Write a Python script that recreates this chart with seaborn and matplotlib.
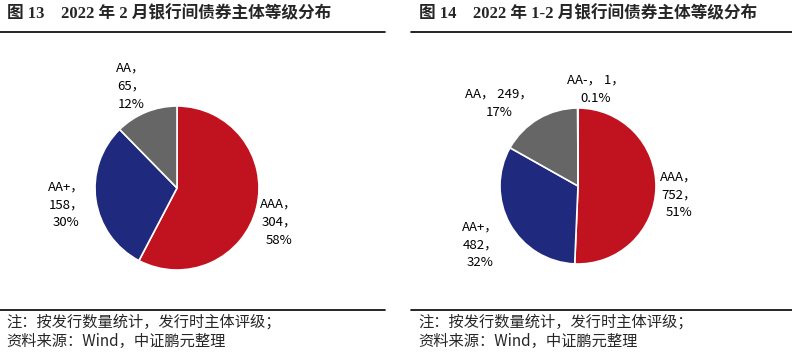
import matplotlib
matplotlib.use("Agg")
import matplotlib.pyplot as plt
import seaborn as sns

sns.set_theme(style="white")
plt.rcParams['font.family'] = ['Noto Sans CJK SC', 'DejaVu Sans']

# Data
grades_feb = ['AAA', 'AA+', 'AA']
counts_feb = [304, 158, 65]
pcts_feb = ['58%', '30%', '12%']

grades_ytd = ['AAA', 'AA+', 'AA', 'AA-']
counts_ytd = [752, 482, 249, 1]
pcts_ytd = ['51%', '32%', '17%', '0.1%']

titles = ['图 13    2022 年 2 月银行间债券主体等级分布',
          '图 14    2022 年 1-2 月银行间债券主体等级分布']
note = '注：按发行数量统计，发行时主体评级；'
source = '资料来源：Wind，中证鹏元整理'

colors = ['#C1121F', '#1F2A7E', '#666666', '#A6A6A6']

W, H = 792, 354
fig = plt.figure(figsize=(W / 100, H / 100), dpi=100)


def add_pie(cx, cy, r, grades, counts, pcts, seps, label_pos):
    # square axes of 200px centred on the pie centre (pixel coords from top-left)
    ax = fig.add_axes([(cx - 100) / W, (H - cy - 100) / H, 200 / W, 200 / H])
    ax.pie(counts, colors=colors[:len(counts)], startangle=90, counterclock=False,
           radius=r, wedgeprops=dict(edgecolor='white', linewidth=1.2))
    ax.set_xlim(-1, 1)
    ax.set_ylim(-1, 1)
    ax.set_aspect('equal')
    ax.axis('off')
    for g, c, p, s, (lx, ly) in zip(grades, counts, pcts, seps, label_pos):
        txt = f'{g}，{s[0]}{c}，{s[1]}{p}'
        ax.text(lx, ly, txt, ha='center', va='center', fontsize=9.5,
                linespacing=1.5, color='black', clip_on=False)
    return ax


add_pie(177, 188, 0.82, grades_feb, counts_feb, pcts_feb,
        [('\n', '\n')] * 3,
        [(1.02, -0.34), (-1.11, -0.17), (-0.46, 1.02)])

add_pie(578, 186, 0.78, grades_ytd, counts_ytd, pcts_ytd,
        [('\n', '\n'), ('\n', '\n'), (' ', '\n'), (' ', '\n')],
        [(1.01, -0.09), (-0.98, -0.59), (-0.79, 0.83), (0.18, 0.97)])

title_font = ['Liberation Serif', 'Noto Sans CJK SC']
for x0, x1, t, tx in [(0, 385, titles[0], 7), (411, 792, titles[1], 419)]:
    fig.text(tx / W, 1 - 14 / H, t, ha='left', va='center', fontsize=12,
             fontweight='bold', family=title_font)
    fig.add_artist(plt.Line2D([x0 / W, x1 / W], [1 - 32 / H, 1 - 32 / H],
                              color='black', lw=1.2))
    fig.add_artist(plt.Line2D([x0 / W, x1 / W], [1 - 310 / H, 1 - 310 / H],
                              color='black', lw=1.2))
    fig.text((tx - 1) / W, 1 - 322 / H, note, ha='left', va='center', fontsize=11,
             family=['Noto Sans CJK SC', 'DejaVu Sans'])
    fig.text((tx - 1) / W, 1 - 341 / H, source, ha='left', va='center', fontsize=11,
             family=['Noto Sans CJK SC', 'DejaVu Sans'])

fig.savefig('out.png', dpi=100)
